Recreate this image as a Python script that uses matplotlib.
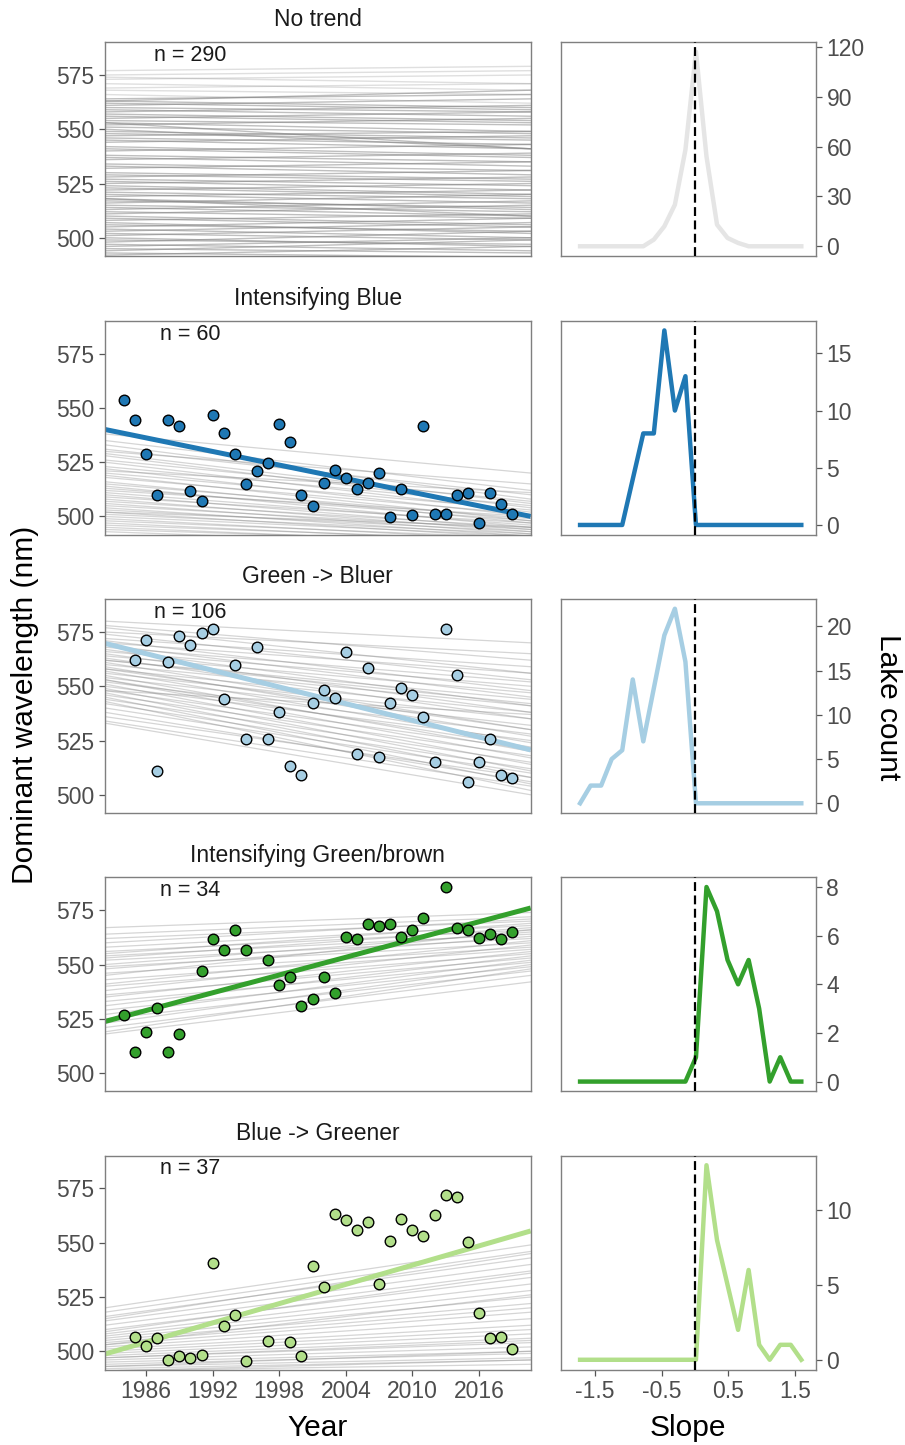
import numpy as np
import matplotlib
matplotlib.use('Agg')
import matplotlib.pyplot as plt

plt.rcParams['font.family'] = ['Liberation Sans', 'DejaVu Sans']

W, H = 905, 1445

# 1) Medias anuales de cada grupo (leidas de la figura)
blue_years = list(range(1984, 2020))
blue_vals = [553.6, 544.5, 528.8, 509.8, 544.5, 541.5, 511.8, 507.2, 546.7, 538.6,
             528.8, 514.8, 520.8, 524.6, 542.6, 534.1, 509.8, 504.7, 515.3, 521.3,
             517.9, 512.7, 515.2, 520.2, 499.8, 512.7, 500.9, 541.5, 501.1, 501.1,
             509.8, 510.7, 496.9, 510.7, 505.8, 501.1]

lb_years = list(range(1985, 2020))
lb_vals = [562.0, 571.1, 511.0, 561.1, 573.3, 569.1, 574.7, 576.4, 544.1, 560.0,
           525.9, 568.2, 525.9, 538.1, 513.3, 509.1, 542.3, 548.1, 544.6, 565.7,
           518.7, 558.2, 517.6, 542.3, 549.1, 546.1, 536.0, 515.3, 576.4, 555.1,
           506.0, 515.3, 525.6, 509.1, 507.7]

green_years = [1984, 1985, 1986, 1987, 1988, 1989, 1991, 1992, 1993, 1994, 1995,
               1997, 1998, 1999, 2000, 2001, 2002, 2003, 2004, 2005, 2006, 2007,
               2008, 2009, 2010, 2011, 2013, 2014, 2015, 2016, 2017, 2018, 2019]
green_vals = [526.8, 509.9, 518.9, 529.9, 509.9, 517.9, 546.8, 561.9, 556.8, 565.9, 556.8,
              551.9, 540.8, 544.4, 530.8, 534.3, 544.4, 536.8, 562.8, 561.9, 568.8, 567.9,
              568.8, 562.8, 565.9, 571.5, 585.6, 567.0, 565.9, 562.4, 563.9, 561.9, 564.8]

lg_years = [1985, 1986, 1987, 1988, 1989, 1990, 1991, 1992, 1993, 1994, 1995,
            1997, 1999, 2000, 2001, 2002, 2003, 2004, 2005, 2006, 2007, 2008,
            2009, 2010, 2011, 2012, 2013, 2014, 2015, 2016, 2017, 2018, 2019]
lg_vals = [506.8, 502.3, 506.0, 496.0, 497.8, 496.8, 498.5, 540.9, 511.8, 516.9, 495.4,
           504.9, 504.5, 497.8, 539.3, 529.8, 563.3, 560.4, 555.8, 559.5, 530.9, 550.9,
           560.9, 555.8, 552.9, 562.9, 571.8, 571.3, 550.3, 517.8, 506.0, 506.5, 500.9]

# 2) Tendencia del grupo: valor en 2000 y pendiente (nm/anio)
blue_trend = (521.6, -1.044)
lb_trend = (547.1, -1.28)
green_trend = (547.9, 1.363)
lg_trend = (524.9, 1.478)

# 3) Tendencias de lagos individuales: valor al inicio y al final del eje
nt_start = [492, 493, 494, 495, 496, 497, 498, 499, 500, 501,
            502, 503, 504, 505, 506, 507, 508, 509, 510, 511,
            512, 513, 514, 515, 516, 517, 518, 519, 520, 521,
            522, 523, 524, 525, 526, 527, 528, 529, 530, 532,
            533, 534, 536, 537, 538, 540, 541, 542, 544, 545,
            546, 547, 548, 549, 550, 551, 552, 553, 554, 555,
            556, 557, 558, 559, 560, 561, 562, 563, 564, 566,
            568, 569, 571, 573, 574, 575, 577, 563, 553, 518]
nt_end = [496, 491, 499, 493, 500, 494, 503, 497, 496, 505,
          499, 507, 500, 509, 503, 502, 511, 505, 506, 515,
          509, 517, 510, 512, 520, 514, 513, 522, 516, 518,
          525, 519, 520, 528, 522, 524, 531, 526, 527, 535,
          529, 531, 539, 533, 535, 543, 537, 538, 547, 541,
          543, 549, 545, 546, 541, 548, 555, 549, 552, 558,
          553, 554, 561, 556, 558, 564, 559, 560, 566, 562,
          566, 571, 568, 575, 571, 577, 579, 568, 541, 510]

blue_start = [538, 535, 533, 531, 529, 528, 526, 525, 523, 522, 520, 519, 518, 516, 515,
              514, 512, 511, 510, 509, 508, 507, 506, 505, 504, 503, 502, 501, 500, 499,
              498, 497, 496, 495, 494, 493, 530, 521, 513, 502]
blue_end = [520, 512, 508, 510, 506, 504, 507, 502, 505, 500, 503, 498, 501, 497, 499,
            495, 500, 496, 494, 497, 493, 495, 492, 494, 491, 493, 490, 492, 491, 489,
            490, 488, 489, 487, 488, 486, 515, 511, 498, 495]

lb_start = [580, 578, 577, 575, 574, 572, 571, 570, 569, 568, 567, 566, 565, 564, 563,
            562, 561, 560, 559, 558, 557, 556, 555, 554, 553, 552, 551, 550, 549, 548,
            547, 546, 545, 544, 543, 542, 540, 538, 536, 534, 533, 562, 558, 553, 548]
lb_end = [570, 562, 556, 565, 553, 559, 548, 556, 545, 552, 541, 550, 538, 547, 535,
          544, 530, 541, 527, 538, 524, 535, 520, 532, 517, 528, 514, 525, 511, 521,
          508, 518, 505, 515, 502, 512, 510, 506, 508, 504, 500, 542, 530, 522, 537]

green_start = [567, 564, 562, 560, 558, 556, 555, 554, 553, 552, 550, 549, 548, 546, 545,
               543, 541, 540, 538, 536, 535, 533, 531, 529, 527, 525, 523, 521, 519, 518]
green_end = [574, 572, 570, 571, 568, 566, 569, 564, 567, 562, 565, 560, 563, 558, 566,
             557, 561, 555, 559, 553, 556, 551, 554, 549, 552, 547, 550, 545, 548, 542]

lg_start = [520, 518, 516, 514, 512, 510, 508, 507, 506, 505, 504, 503, 502, 501, 500,
            499, 498, 497, 496, 495, 494, 493, 492, 491, 515, 509, 503, 497, 493, 491]
lg_end = [549, 546, 543, 540, 537, 534, 531, 528, 525, 522, 520, 518, 515, 512, 510,
          508, 506, 504, 502, 500, 499, 497, 496, 494, 545, 536, 526, 505, 500, 496]

# 4) Conteo de lagos por pendiente (poligono de frecuencias)
slope_centers = np.linspace(-1.72, 1.59, 22)
nt_counts = [0, 0, 0, 0, 0, 0, 0, 4, 12, 25, 58, 117, 54, 13, 5, 2, 0, 0, 0, 0, 0, 0]
blue_counts = [0, 0, 0, 0, 0, 4, 8, 8, 17, 10, 13, 0, 0, 0, 0, 0, 0, 0, 0, 0, 0, 0]
lb_counts = [0, 2, 2, 5, 6, 14, 7, 13, 19, 22, 16, 0, 0, 0, 0, 0, 0, 0, 0, 0, 0, 0]
green_counts = [0, 0, 0, 0, 0, 0, 0, 0, 0, 0, 0, 1, 8, 7, 5, 4, 5, 3, 0, 1, 0, 0]
lg_counts = [0, 0, 0, 0, 0, 0, 0, 0, 0, 0, 0, 0, 13, 8, 5, 2, 6, 1, 0, 1, 1, 0]

titles = ['No trend', 'Intensifying Blue', 'Green -> Bluer',
          'Intensifying Green/brown', 'Blue -> Greener']
n_labels = ['n = 290', 'n = 60', 'n = 106', 'n = 34', 'n = 37']
colors = ['#E5E5E5', '#1F78B4', '#A6CEE3', '#33A02C', '#B2DF8A']
year_ticks = [1986, 1992, 1998, 2004, 2010, 2016]
slope_ticks = [-1.5, -0.5, 0.5, 1.5]
count_ticks = [[0, 30, 60, 90, 120], [0, 5, 10, 15], [0, 5, 10, 15, 20],
               [0, 2, 4, 6, 8], [0, 5, 10]]

groups = [
    (None, None, None, nt_start, nt_end, nt_counts),
    (blue_years, blue_vals, blue_trend, blue_start, blue_end, blue_counts),
    (lb_years, lb_vals, lb_trend, lb_start, lb_end, lb_counts),
    (green_years, green_vals, green_trend, green_start, green_end, green_counts),
    (lg_years, lg_vals, lg_trend, lg_start, lg_end, lg_counts),
]

XLIM = (1982.3, 2020.66)
YLIM = (491.6, 590.2)
SLIM = (-2.01, 1.81)

fig = plt.figure(figsize=(W / 100, H / 100), dpi=100)


def px_axes(x0, y0, w, h):
    return fig.add_axes([x0 / W, 1 - (y0 + h) / H, w / W, h / H])


def style(ax):
    for sp in ax.spines.values():
        sp.set_color('#7F7F7F')
        sp.set_linewidth(1.0)
    ax.tick_params(direction='out', length=4.5, width=0.9, color='#555555',
                   labelcolor='#4D4D4D', labelsize=16.5, pad=3)


tops = [42, 320.7, 599, 877.3, 1155.5]
ph = 214

for i, (yrs, vals, trend, st, en, counts) in enumerate(groups):
    top = tops[i]
    last = i == len(groups) - 1

    # panel izquierdo
    ax = px_axes(105, top, 425.7, ph)
    style(ax)
    xs = np.array(XLIM)
    for s, e in zip(st, en):
        # sin tendencia: banda mas densa, mas clara por encima de 565
        if i == 0:
            a = 0.25 if s > 565 else 0.5
            ax.plot(xs, [s, e], color='#808080', alpha=a, lw=1.0, zorder=1)
        else:
            ax.plot(xs, [s, e], color='#808080', alpha=0.33, lw=0.9, zorder=1)
    if trend is not None:
        ax.plot(xs, trend[0] + trend[1] * (xs - 2000), color=colors[i], lw=3.6,
                solid_capstyle='butt', zorder=2)
        ax.scatter(yrs, vals, s=58, c=colors[i], edgecolors='black',
                   linewidths=1.0, zorder=3, clip_on=False)
    ax.set_xlim(XLIM)
    ax.set_ylim(YLIM)
    ax.set_yticks([500, 525, 550, 575])
    ax.set_xticks(year_ticks)
    if last:
        ax.set_xticklabels([str(y) for y in year_ticks])
    else:
        ax.tick_params(axis='x', bottom=False, labelbottom=False)
    ax.text(0.5, 1 + 15.5 / ph, titles[i], transform=ax.transAxes, ha='center',
            va='baseline', fontsize=16.5, color='#1A1A1A')
    ax.text(0.2, 1 - 19 / ph, n_labels[i], transform=ax.transAxes, ha='center',
            va='baseline', fontsize=15.5, color='#1A1A1A')

    # panel derecho
    ax2 = px_axes(560.7, top, 255.3, ph)
    style(ax2)
    ax2.plot(slope_centers, counts, color=colors[i], lw=3.2, zorder=2)
    ax2.axvline(0, color='black', ls=(0, (4, 2)), lw=1.6, zorder=3)
    cmax = max(counts)
    ax2.set_ylim(-0.05 * cmax, 1.05 * cmax)
    ax2.set_xlim(SLIM)
    ax2.yaxis.tick_right()
    ax2.set_yticks(count_ticks[i])
    ax2.set_xticks(slope_ticks)
    if last:
        ax2.set_xticklabels(['-1.5', '-0.5', '0.5', '1.5'])
    else:
        ax2.tick_params(axis='x', bottom=False, labelbottom=False)

# titulos de ejes
fig.text(25 / W, 1 - 705 / H, 'Dominant wavelength (nm)', rotation=90,
         ha='center', va='center', fontsize=21.5)
fig.text(888 / W, 1 - 707 / H, 'Lake count', rotation=270,
         ha='center', va='center', fontsize=21.5)
fig.text(318 / W, 1 - 1436 / H, 'Year', ha='center', va='baseline', fontsize=21.5)
fig.text(688 / W, 1 - 1436 / H, 'Slope', ha='center', va='baseline', fontsize=21.5)

fig.savefig('out.png', dpi=100)
